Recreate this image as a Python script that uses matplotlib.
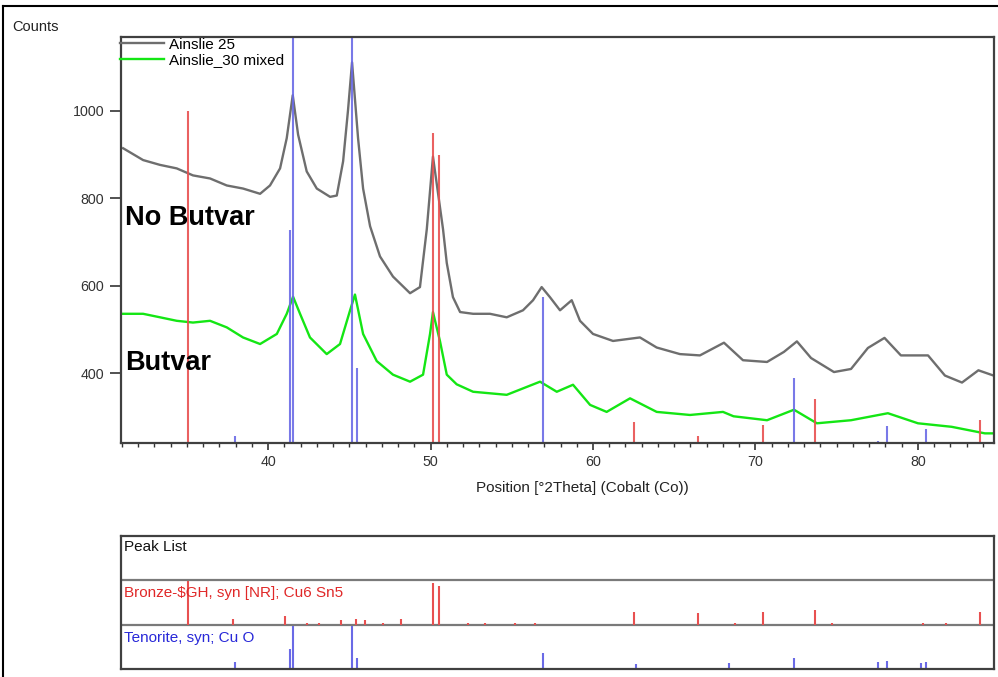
import matplotlib
matplotlib.use("Agg")
import matplotlib.pyplot as plt
from matplotlib.lines import Line2D

plt.rcParams['font.family'] = ['Liberation Sans', 'DejaVu Sans']

# ------------------------------------------------------------
# Dados lidos do difratograma (Co K-alpha)
# ------------------------------------------------------------
gray_x = [31.08, 32.31, 33.35, 34.38, 35.38, 36.43, 37.46, 38.46, 39.51, 40.12,
          40.74, 41.15, 41.52, 41.85, 42.38, 43.00, 43.82, 44.23, 44.62, 44.92,
          45.17, 45.54, 45.85, 46.28, 46.89, 47.69, 48.74, 49.35, 49.77, 50.15,
          50.77, 51.00, 51.38, 51.82, 52.62, 53.66, 54.69, 55.69, 56.31, 56.84,
          57.35, 57.97, 58.69, 59.20, 60.00, 61.23, 62.89, 63.92, 65.35, 66.58,
          68.06, 69.23, 70.71, 71.75, 72.55, 73.42, 74.83, 75.88, 76.92, 77.94,
          78.95, 80.62, 81.66, 82.71, 83.72, 84.65]
gray_y = [914, 887, 876, 868, 852, 845, 829, 822, 810, 829,
          868, 937, 1035, 945, 861, 822, 803, 806, 884, 1000,
          1110, 937, 822, 736, 667, 621, 583, 597, 729, 895,
          729, 652, 574, 540, 536, 536, 528, 544, 567, 597,
          574, 544, 567, 520, 490, 474, 482, 459, 444, 441,
          470, 430, 426, 449, 473, 435, 403, 410, 458, 481,
          441, 441, 395, 379, 407, 395]

green_x = [31.08, 32.31, 33.35, 34.38, 35.38, 36.43, 37.46, 38.46, 39.51, 40.54,
           41.15, 41.54, 41.97, 42.58, 43.61, 44.43, 45.05, 45.35, 45.85, 46.69,
           47.69, 48.74, 49.54, 49.97, 50.15, 50.58, 51.00, 51.61, 52.62, 54.69,
           56.74, 57.77, 58.77, 59.82, 60.84, 62.28, 63.92, 65.97, 68.00, 68.65,
           70.71, 72.37, 73.78, 75.88, 78.15, 80.00, 82.07, 84.12, 84.65]
green_y = [536, 536, 528, 520, 516, 520, 505, 482, 467, 490,
           536, 575, 536, 482, 444, 467, 544, 580, 490, 428,
           397, 381, 397, 490, 540, 474, 397, 375, 358, 351,
           381, 358, 374, 328, 312, 343, 312, 305, 312, 302,
           293, 317, 286, 293, 309, 286, 278, 263, 263]

# Linhas de referência (posição, contagens no gráfico principal)
bronze_pos = [35.10, 37.85, 41.05, 42.38, 43.14, 44.49, 45.42, 45.97, 47.08, 48.18,
              50.15, 50.52, 52.31, 53.35, 55.20, 56.43, 62.55, 66.46, 68.74, 70.46,
              73.69, 74.71, 80.29, 81.72, 83.82]
bronze_cts = [1000, 130, 200, 30, 30, 110, 130, 110, 30, 130,
              948, 898, 30, 30, 30, 30, 289, 258, 40, 282,
              342, 30, 30, 30, 293]
bronze_max = 1000

tenorite_pos = [37.97, 41.35, 41.52, 45.17, 45.46, 54.09, 56.92, 62.65, 68.37, 72.37,
                77.54, 78.12, 80.18, 80.49]
tenorite_cts = [257, 727, 1600, 1580, 412, 30, 574, 190, 224, 390,
                245, 280, 210, 272]
tenorite_max = 1600

red = '#e85050'
blue = '#6a6ae6'

fig = plt.figure(figsize=(9.98, 6.77), dpi=100)

# moldura exterior
fig.add_artist(Line2D([3/998, 1.0], [1-6/677, 1-6/677], color='black', lw=1.5))
fig.add_artist(Line2D([3/998, 3/998], [0, 1-6/677], color='black', lw=1.5))

# ------------------------------------------------------------
# Gráfico principal
# ------------------------------------------------------------
ax = fig.add_axes([121/998, 1-443/677, 873/998, 406/677])
ax.plot(gray_x, gray_y, color='#6e6e6e', lw=1.7, label='Ainslie 25')
ax.plot(green_x, green_y, color='#14e614', lw=1.7, label='Ainslie_30 mixed')
ax.vlines(bronze_pos, 0, bronze_cts, color=red, lw=1.5, alpha=0.9)
ax.vlines(tenorite_pos, 0, tenorite_cts, color=blue, lw=1.5, alpha=0.9)

ax.set_xlim(30.95, 84.68)
ax.set_ylim(241, 1168)
ax.set_xticks([40, 50, 60, 70, 80])
ax.set_xticks(range(31, 85), minor=True)
ax.set_yticks([400, 600, 800, 1000])
ax.tick_params(axis='y', length=8, width=1.2, pad=4, labelsize=10.3, colors='#333333')
ax.tick_params(axis='x', which='major', length=5, width=1.2, pad=4, labelsize=10.3, colors='#333333')
ax.tick_params(axis='x', which='minor', length=3, width=1.0, colors='#333333')
for s in ax.spines.values():
    s.set_color('#404040')
    s.set_linewidth(1.6)

ax.set_xlabel('Position [°2Theta] (Cobalt (Co))', fontsize=11, color='#222222')
ax.xaxis.set_label_coords(0.529, -0.093)

ax.legend(loc='upper left', bbox_to_anchor=(-0.002, 1.0), frameon=False, fontsize=11,
          handlelength=2.9, handletextpad=0.3, labelspacing=0.1, borderpad=0.05,
          borderaxespad=0.0)

ax.text(0.005, 0.537, 'No Butvar', transform=ax.transAxes, fontsize=19.5,
        fontweight='bold', va='baseline')
ax.text(0.005, 0.18, 'Butvar', transform=ax.transAxes, fontsize=19.5,
        fontweight='bold', va='baseline')

fig.text(12/998, 1-27/677, 'Counts', fontsize=10.5, color='#222222', va='center')

# ------------------------------------------------------------
# Lista de picos
# ------------------------------------------------------------
pk = fig.add_axes([121/998, 1-669/677, 873/998, 133/677])
pk.set_xlim(ax.get_xlim())
pk.set_ylim(0, 3)
pk.set_xticks([])
pk.set_yticks([])
for s in pk.spines.values():
    s.set_color('#404040')
    s.set_linewidth(1.6)
pk.axhline(1, color='#7a7a7a', lw=1.6)
pk.axhline(2, color='#7a7a7a', lw=1.6)

pk.vlines(bronze_pos, 1, [1 + 0.98 * c / bronze_max for c in bronze_cts], color=red, lw=1.5)
pk.vlines(tenorite_pos, 0, [min(0.98 * c / tenorite_max, 0.98) for c in tenorite_cts], color=blue, lw=1.5)

pk.text(0.004, 2.75, 'Peak List', transform=pk.get_yaxis_transform(), fontsize=11,
        color='#111111', va='center')
pk.text(0.004, 1.72, 'Bronze-$GH, syn [NR]; Cu6 Sn5', transform=pk.get_yaxis_transform(),
        fontsize=11, color='#e02828', va='center')
pk.text(0.004, 0.70, 'Tenorite, syn; Cu O', transform=pk.get_yaxis_transform(),
        fontsize=11, color='#2828d8', va='center')

fig.savefig('out.png', dpi=100)
